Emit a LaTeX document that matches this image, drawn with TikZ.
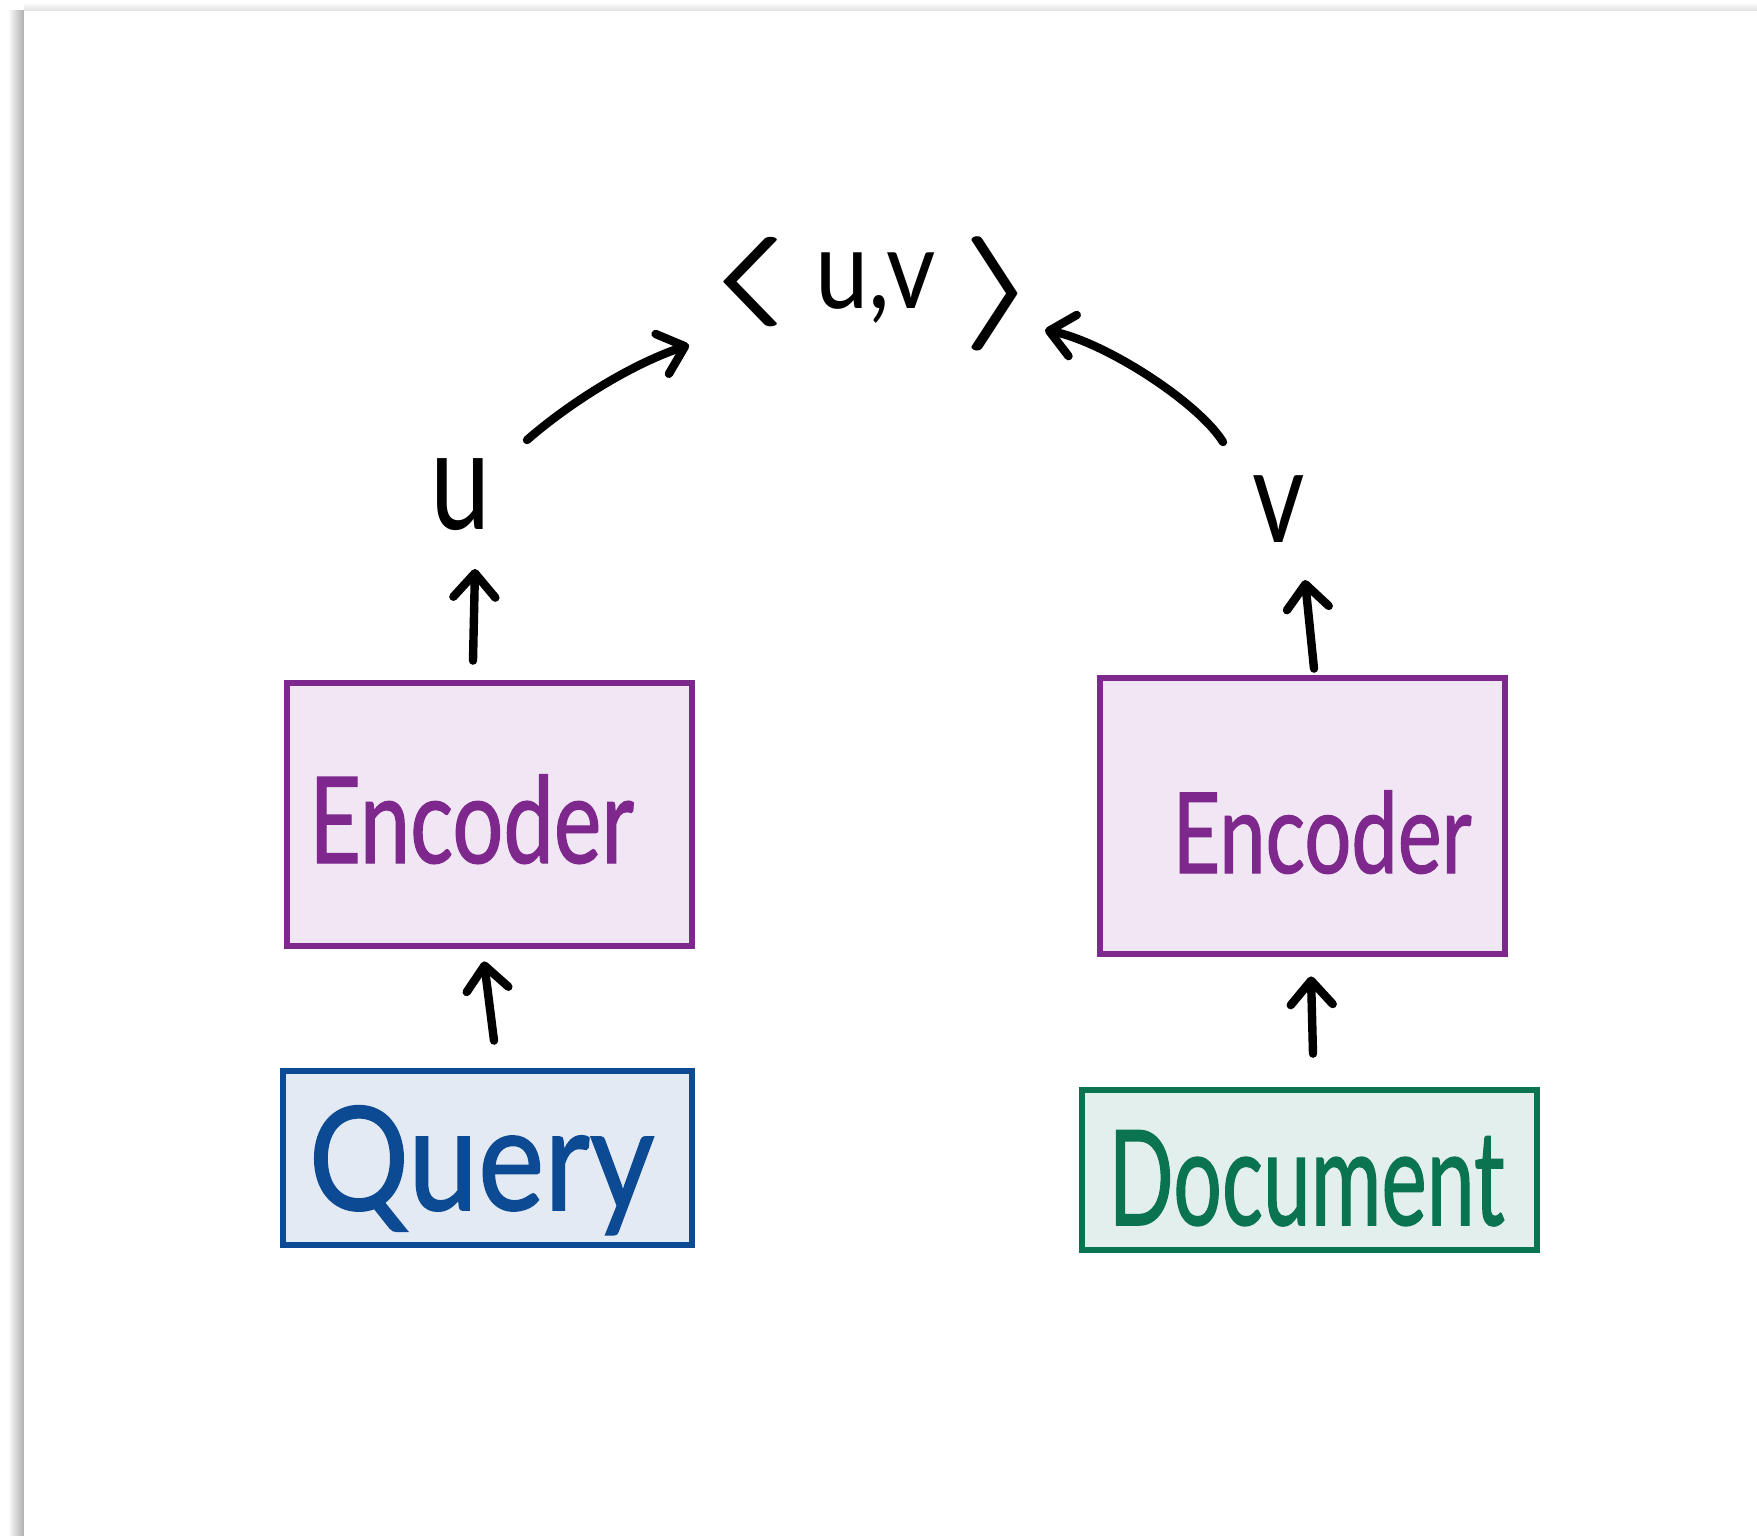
\documentclass[tikz,border=0pt]{standalone}
\usepackage{fontspec}
\setmainfont{Lato}
\newfontfamily\handfont[FakeBold=1.2]{Lato}
\usetikzlibrary{arrows.meta,calc}

\definecolor{encstroke}{RGB}{126,40,142}
\definecolor{encfill}{RGB}{241,230,243}
\definecolor{qstroke}{RGB}{12,74,148}
\definecolor{qfill}{RGB}{227,234,243}
\definecolor{dstroke}{RGB}{10,115,80}
\definecolor{dfill}{RGB}{226,239,236}

\begin{document}
\begin{tikzpicture}[x=0.5pt,y=-0.5pt,
  box/.style={draw,rectangle,line width=3.4pt,inner sep=0pt},
  encbox/.style={box,draw=encstroke,fill=encfill,minimum width=202.5pt},
  qbox/.style={box,draw=qstroke,fill=qfill},
  dbox/.style={box,draw=dstroke,fill=dfill},
  word/.style={inner sep=0pt,anchor=base},
  pen/.style={line width=4.2pt,line cap=round,line join=round,
    -{Straight Barb[length=12pt,width=21pt,round]}},
]
% page with its drop shadow
\useasboundingbox (0,0) rectangle (1757,1536);
\fill[white] (0,0) rectangle (1757,1536);
\shade[left color=white,right color=black!32] (8,11) rectangle (24,1536);
\shade[top color=white,bottom color=black!12] (24,2) rectangle (1757,11);
\fill[white] (24,11) rectangle (1757,1536);

% boxes
\node[encbox,minimum height=131.5pt] (encL) at (489.5,814.5) {};
\node[encbox,minimum height=138pt] (encR) at (1302.5,816) {};
\node[qbox,minimum width=204.5pt,minimum height=87pt] (query) at (487.5,1158) {};
\node[dbox,minimum width=227.5pt,minimum height=80pt] (doc) at (1309.5,1170) {};

% box texts
\node[word,text=encstroke,font=\handfont\fontsize{60}{60}\selectfont] (encLtext) at (471.5,863)
  {\scalebox{0.75}[1]{Encoder}};
\node[word,text=encstroke,font=\handfont\fontsize{56}{56}\selectfont] (encRtext) at (1322,873)
  {\scalebox{0.74}[1]{Encoder}};
\node[word,text=qstroke,font=\handfont\fontsize{72}{72}\selectfont] (querytext) at (481.5,1210)
  {\scalebox{0.87}[1]{Query}};
\node[word,text=dstroke,font=\handfont\fontsize{66}{66}\selectfont] (doctext) at (1306.5,1225)
  {\scalebox{0.65}[1]{Document}};

% embeddings and their inner product
\node[word,font=\fontsize{40}{40}\selectfont] (u) at (461,529) {\scalebox{1.35}[1.75]{u}};
\node[word,font=\fontsize{40}{40}\selectfont] (v) at (1279,542) {\scalebox{1.27}[1.65]{v}};
\node[word,font=\fontsize{55}{55}\selectfont] (uv) at (869,308)
  {\raisebox{2pt}{\scalebox{4.2}[1.8]{\boldmath$\langle$}}\hspace{12pt}%
   \scalebox{0.87}[1]{u,v}\hspace{12pt}%
   \raisebox{-7pt}{\scalebox{3.6}[2.3]{\boldmath$\rangle$}}};

% connectors
\draw[pen] ($(query.north)+(6.5,-27)$) -- ($(encL.south)+(-5.5,12)$);
\draw[pen] ($(encL.north)+(-16.5,-19)$) -- ($(u.base)+(14,40)$);
\draw[pen] ($(doc.north)+(3.5,-33)$) -- ($(encR.south)+(8.5,19)$);
\draw[pen] ($(encR.north)+(11.5,-6)$) -- ($(v.base)+(26,38)$);
\draw[pen] ($(u.base)+(66,-89)$) .. controls +(40,-35) and +(-60,20) .. ($(uv.base)+(-180,37)$);
\draw[pen] ($(v.base)+(-56,-100)$) .. controls +(-25,-40) and +(60,12) .. ($(uv.base)+(176,22)$);
\end{tikzpicture}
\end{document}
